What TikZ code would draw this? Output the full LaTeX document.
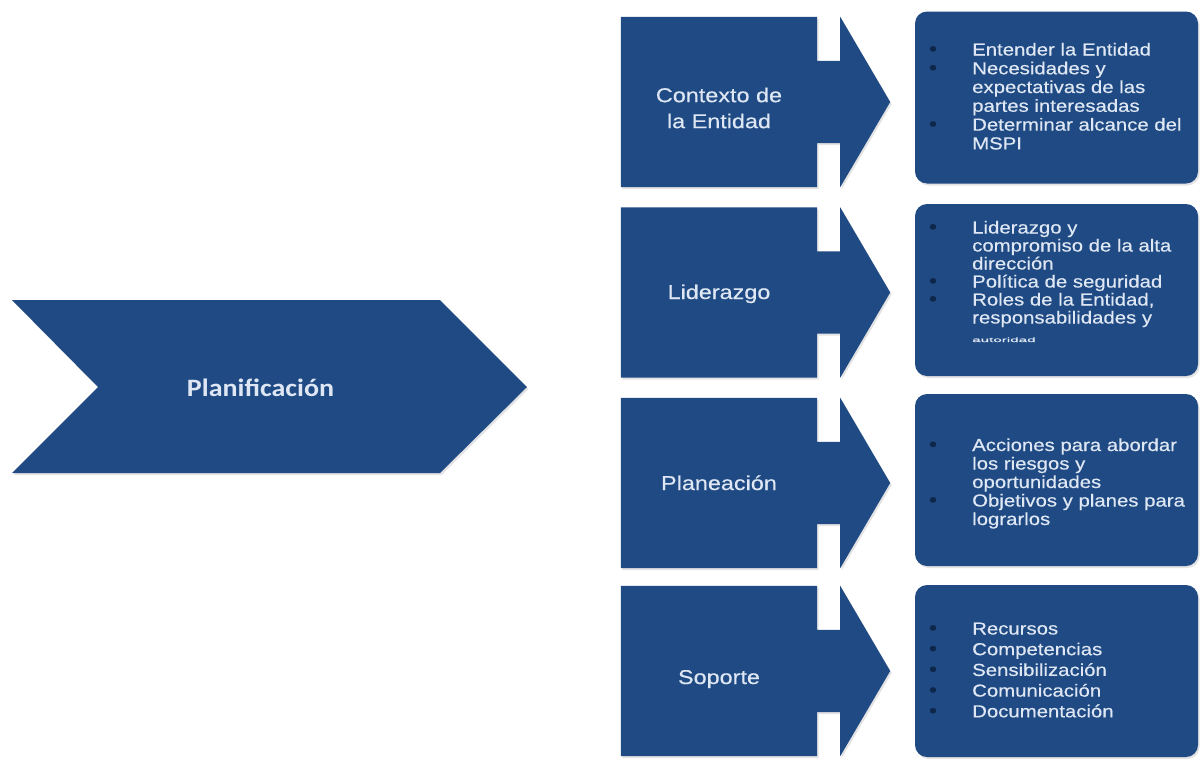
\documentclass[tikz,border=0pt]{standalone}
\usepackage{fontspec}
\usetikzlibrary{shadows,calc}
\newfontfamily\arialw[FakeStretch=1.17,FakeBold=0.4]{Liberation Sans}
\newfontfamily\calw[FakeStretch=1.12]{Carlito}
\definecolor{navy}{RGB}{31,74,132}
\definecolor{pale}{RGB}{222,231,243}
\definecolor{dotc}{RGB}{14,38,74}
\begin{document}
\begin{tikzpicture}[x=1pt,y=-1pt,
  shade/.style={drop shadow={opacity=0.22,shadow xshift=1.5pt,shadow yshift=-2pt}},
  bodybox/.style={minimum width=196pt,minimum height=170pt,inner sep=0pt,draw=none},
  infobox/.style={fill=navy,rounded corners=12pt,minimum width=283pt,minimum height=172pt,inner sep=0pt,shade},
  lbl/.style={inner sep=0pt,text=pale,align=center,font=\arialw\fontsize{20}{26}\selectfont},
  itemtxt/.style={anchor=base west,inner sep=0pt,text=pale,font=\arialw\fontsize{17.4}{18}\selectfont},
  dotmark/.style={anchor=base,inner sep=0pt,text=dotc,font=\arialw\fontsize{20}{20}\selectfont},
]
\fill[white] (0,0) rectangle (1200,774);
\useasboundingbox (0,0) rectangle (1200,774);

% chevron
\fill[navy,shade] (12,300) -- (440,300) -- (527,387) -- (440,473) -- (12,473) -- (98,387) -- cycle;
\node[anchor=base,inner sep=0pt,text=pale,font=\calw\bfseries\fontsize{25}{30}\selectfont] (plan) at (260.5,396.5) {Planificación};

% left arrow blocks
\foreach \nm/\cy in {c1/102,c2/292.5,c3/483,c4/671}{
  \node[bodybox] (\nm) at (719,\cy) {};
  \fill[navy,shade] (\nm.north west) -- (\nm.north east) -- ($(\nm.north east)+(0,44)$) -- ($(\nm.north east)+(23,44)$) -- ($(\nm.north east)+(23,0)$) -- ($(\nm.east)+(73,0)$) -- ($(\nm.south east)+(23,0)$) -- ($(\nm.south east)+(23,-44)$) -- ($(\nm.south east)+(0,-44)$) -- (\nm.south east) -- (\nm.south west) -- cycle;
}
\node[lbl] (c1t) at (719,108) {Contexto de\\la Entidad};
\node[lbl,anchor=base] (c2t) at (719,299) {Liderazgo};
\node[lbl,anchor=base] (c3t) at (719,490) {Planeación};
\node[lbl,anchor=base] (c4t) at (719,684) {Soporte};

% right boxes
\node[infobox] (r1) at (1056.5,97.5) {};
\node[infobox] (r2) at (1056.5,290) {};
\node[infobox] (r3) at (1056.5,480) {};
\node[infobox] (r4) at (1056.5,671) {};

\foreach \yy/\bb/\txt [count=\k] in {55.5/1/Entender la Entidad,74.3/1/Necesidades y,93/0/expectativas de las,111.8/0/partes interesadas,130.6/1/Determinar alcance del,149.4/0/MSPI}{
  \node[itemtxt] (a\k) at (972,\yy) {\txt};
  \ifnum\bb=1 \node[dotmark] (ad\k) at (933,\yy) {•};\fi
}
\foreach \yy/\bb/\txt [count=\k] in {233.5/1/Liderazgo y,251.5/0/compromiso de la alta,269.5/0/dirección,287.5/1/Política de seguridad,305.5/1/{Roles de la Entidad,},323.5/0/responsabilidades y}{
  \node[itemtxt] (b\k) at (972,\yy) {\txt};
  \ifnum\bb=1 \node[dotmark] (bd\k) at (933,\yy) {•};\fi
}
\node[itemtxt,font=\arialw\fontsize{13}{13}\selectfont] (b7) at (972,342) {\scalebox{1}[0.5]{autoridad}};
\foreach \yy/\bb/\txt [count=\k] in {451/1/Acciones para abordar,469.5/0/los riesgos y,488/0/oportunidades,506.5/1/Objetivos y planes para,525/0/lograrlos}{
  \node[itemtxt] (e\k) at (972,\yy) {\txt};
  \ifnum\bb=1 \node[dotmark] (ed\k) at (933,\yy) {•};\fi
}
\foreach \yy/\txt [count=\k] in {634.5/Recursos,655.2/Competencias,675.9/Sensibilización,696.6/Comunicación,717.3/Documentación}{
  \node[itemtxt] (f\k) at (972,\yy) {\txt};
  \node[dotmark] (fd\k) at (933,\yy) {•};
}
\end{tikzpicture}
\end{document}
